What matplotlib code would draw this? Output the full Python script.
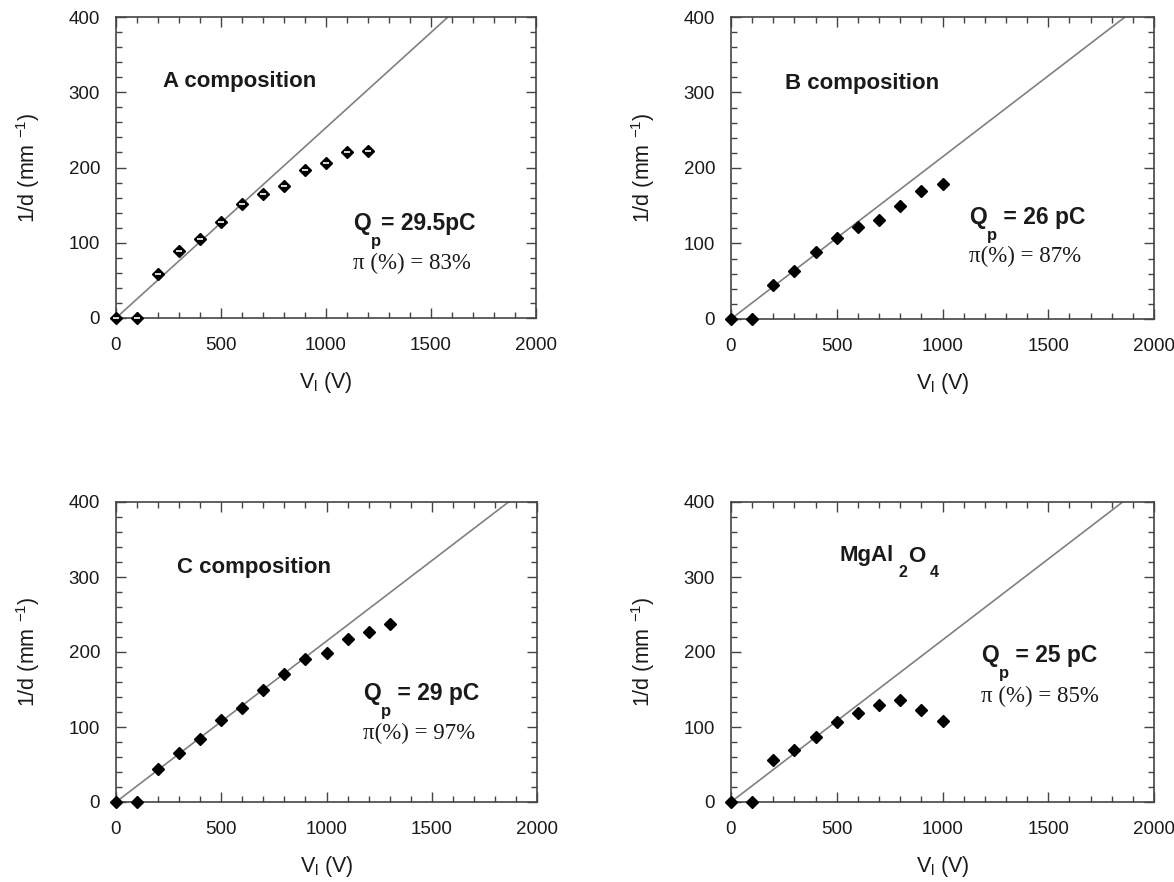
import matplotlib
matplotlib.use("Agg")
import matplotlib.pyplot as plt
from matplotlib.ticker import MultipleLocator

# ---- data ----
volt_A = [0, 100, 200, 300, 400, 500, 600, 700, 800, 900, 1000, 1100, 1200]
invd_A = [0, 0, 59, 89.5, 105, 128, 151, 165, 176, 197, 206, 220, 222]
slope_A = 0.253

volt_B = [0, 100, 200, 300, 400, 500, 600, 700, 800, 900, 1000]
invd_B = [0, 0, 45, 64, 89, 107.5, 122.5, 130.5, 150, 170, 179]
slope_B = 0.2147

volt_C = [0, 100, 200, 300, 400, 500, 600, 700, 800, 900, 1000, 1100, 1200, 1300]
invd_C = [0, 0, 44.5, 65.5, 84.5, 110, 126, 149.5, 170.5, 190.5, 198.5, 217, 227, 238]
slope_C = 0.2145

volt_D = [0, 100, 200, 300, 400, 500, 600, 700, 800, 900, 1000]
invd_D = [0, 0, 55.5, 70, 87, 107, 119, 129, 136, 123, 108]
slope_D = 0.216

# title pieces: list of (text, is_subscript)
titles = [[("A composition", False)], [("B composition", False)],
          [("C composition", False)],
          [("MgAl", False), ("2", True), ("O", False), ("4", True)]]
q_values = ["= 29.5pC", " = 26 pC", " = 29 pC", " = 25 pC"]
pi_labels = ["π (%) = 83%", "π(%) = 87%", "π(%) = 97%", "π (%) = 85%"]

plt.rcParams['mathtext.fontset'] = 'custom'
plt.rcParams['mathtext.rm'] = 'Liberation Sans'
plt.rcParams['mathtext.bf'] = 'Liberation Sans:bold'
plt.rcParams['mathtext.it'] = 'Liberation Sans:italic'

fig = plt.figure(figsize=(11.74, 8.82), dpi=100)
W, H = 1174, 882
boxes = [(116, 17, 536, 318), (731, 17, 1154, 319), (116, 502, 537, 802), (731, 502, 1154, 802)]

datasets = [(volt_A, invd_A, slope_A), (volt_B, invd_B, slope_B),
            (volt_C, invd_C, slope_C), (volt_D, invd_D, slope_D)]
title_pos = [(223, 314), (255, 312), (292, 313), (514, 328)]
q_pos = [(1129, 125), (1126, 134), (1174, 145), (1182, 195)]
pi_pos = [(1129, 72), (1126, 83), (1174, 92), (1182, 141)]

txt_col = '#1a1a1a'
spine_col = '#444444'

for i, (l, t, r, b) in enumerate(boxes):
    ax = fig.add_axes([l / W, 1 - b / H, (r - l) / W, (b - t) / H])
    vx, vy, s = datasets[i]
    ax.plot([0, 400 / s], [0, 400], color='#808080', lw=1.2, zorder=2)
    ax.plot(vx, vy, linestyle='none', marker='D', ms=6.5, color='black', zorder=3,
            clip_on=False)
    if i == 0:
        ax.plot(vx, vy, linestyle='none', marker='_', ms=5, mew=1.2, color='white', zorder=4,
                clip_on=False)
    ax.set_xlim(0, 2000)
    ax.set_ylim(0, 400)
    ax.xaxis.set_major_locator(MultipleLocator(500))
    ax.xaxis.set_minor_locator(MultipleLocator(100))
    ax.yaxis.set_major_locator(MultipleLocator(100))
    ax.yaxis.set_minor_locator(MultipleLocator(20))
    ax.tick_params(which='both', direction='in', top=True, right=True,
                   colors=spine_col, labelcolor=txt_col, labelsize=13.5, width=1.0)
    ax.tick_params(which='major', length=7)
    ax.tick_params(axis='x', which='major', pad=14)
    ax.tick_params(axis='y', which='major', pad=11.5)
    ax.tick_params(which='minor', length=4)
    for sp in ax.spines.values():
        sp.set_color(spine_col)
        sp.set_linewidth(1.2)
    ax.set_xlabel(r"V$_\mathregular{l}$ (V)", fontsize=15.5, color=txt_col, labelpad=11,
                  family='Liberation Sans')
    ax.set_ylabel(r"1/d (mm $^{\mathregular{-1}}$)", fontsize=15.5, color=txt_col, labelpad=19,
                  family='Liberation Sans')
    for lab in ax.get_xticklabels() + ax.get_yticklabels():
        lab.set_family('Liberation Sans')

    # title with lowered subscripts
    tx, ty = title_pos[i]
    pieces = titles[i]
    base = ax.text(tx, ty, pieces[0][0], fontsize=16, fontweight='bold', color=txt_col,
                   family='Liberation Sans', va='center', ha='left')
    prev = base
    for txt, sub in pieces[1:]:
        if sub:
            prev = ax.annotate(txt, xy=(1.0, 0.05), xycoords=(prev, base), xytext=(3, 0),
                               textcoords='offset points', fontsize=11.5, fontweight='bold',
                               color=txt_col, family='Liberation Sans', va='top', ha='left')
        else:
            prev = ax.annotate(txt, xy=(1.0, 0.0), xycoords=(prev, base), xytext=(1, 0),
                               textcoords='offset points', fontsize=16, fontweight='bold',
                               color=txt_col, family='Liberation Sans', va='bottom', ha='left')

    qx, qy = q_pos[i]
    tq = ax.text(qx, qy, "Q", fontsize=16.5, fontweight='bold', color=txt_col,
                 family='Liberation Sans', va='center', ha='left')
    tp = ax.annotate("p", xy=(1.0, 0.05), xycoords=tq, fontsize=12, fontweight='bold',
                     color=txt_col, family='Liberation Sans', va='top', ha='left')
    ax.annotate(q_values[i], xy=(1.0, 0.0), xycoords=(tp, tq), fontsize=16.5,
                fontweight='bold', color=txt_col, family='Liberation Sans',
                va='bottom', ha='left')
    px, py = pi_pos[i]
    ax.text(px, py, pi_labels[i], fontsize=16.5, color=txt_col,
            family='Liberation Serif', va='center', ha='left')

fig.savefig("out.png", dpi=100, facecolor='white')
